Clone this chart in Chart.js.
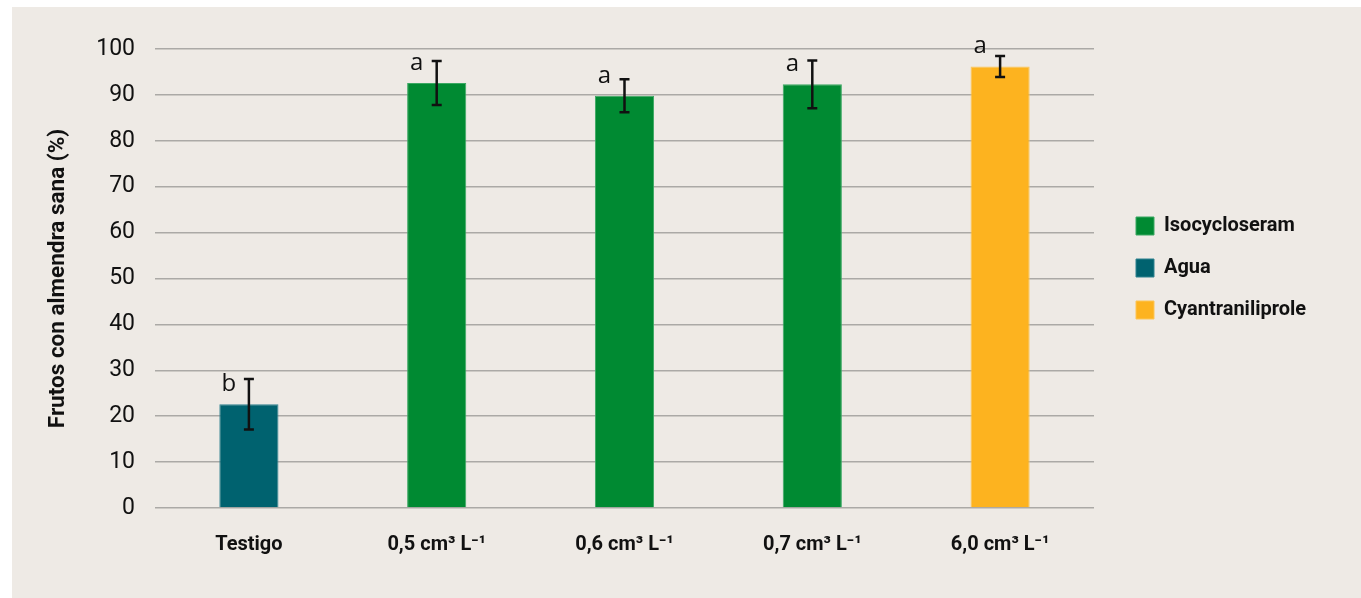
<!DOCTYPE html>
<html lang="es">
<head>
<meta charset="utf-8">
<title>Frutos con almendra sana</title>
<script src="https://cdn.jsdelivr.net/npm/chart.js@4.4.1/dist/chart.umd.min.js"></script>
<style>
    html, body { margin: 0; padding: 0; background: #ffffff; }
    #panel {
        position: absolute;
        left: 12px;
        top: 7px;
        width: 1349px;
        height: 591px;
        background: #eeeae5;
    }
</style>
</head>
<body>
<div id="panel"><canvas id="frutosChart"></canvas></div>
<script>
// Data
const categories = ['Testigo', '0,5 cm\u00b3 L\u207b\u00b9', '0,6 cm\u00b3 L\u207b\u00b9', '0,7 cm\u00b3 L\u207b\u00b9', '6,0 cm\u00b3 L\u207b\u00b9'];
const values = [22.6, 92.6, 89.8, 92.3, 96.2];
const errors = [5.5, 4.8, 3.6, 5.2, 2.3];
const letters = ['b', 'a', 'a', 'a', 'a'];
const treatments = ['Agua', 'Isocycloseram', 'Isocycloseram', 'Isocycloseram', 'Cyantraniliprole'];
const legendNames = ['Isocycloseram', 'Agua', 'Cyantraniliprole'];
const yTicks = [0, 10, 20, 30, 40, 50, 60, 70, 80, 90, 100];

const colors = {
    'Isocycloseram': '#008a32',
    'Agua': '#00626f',
    'Cyantraniliprole': '#fdb31f'
};
const edges = {
    'Isocycloseram': '#3aa862',
    'Agua': '#2f8290',
    'Cyantraniliprole': '#fdc556'
};

// error bars + significance letters
const errorBars = {
    id: 'errorBars',
    afterDatasetsDraw(chart) {
        const ctx = chart.ctx;
        const y = chart.scales.y;
        const meta = chart.getDatasetMeta(0);
        ctx.save();
        ctx.strokeStyle = '#111111';
        ctx.lineWidth = 2.5;
        meta.data.forEach((bar, i) => {
            const top = y.getPixelForValue(values[i] + errors[i]);
            const bot = y.getPixelForValue(values[i] - errors[i]);
            ctx.beginPath();
            ctx.moveTo(bar.x, top);
            ctx.lineTo(bar.x, bot);
            ctx.moveTo(bar.x - 5, top);
            ctx.lineTo(bar.x + 5, top);
            ctx.moveTo(bar.x - 5, bot);
            ctx.lineTo(bar.x + 5, bot);
            ctx.stroke();

            ctx.fillStyle = '#111111';
            ctx.font = '24px "Open Sans"';
            ctx.textAlign = 'center';
            ctx.textBaseline = 'alphabetic';
            ctx.fillText(letters[i], bar.x - 20, y.getPixelForValue(values[i] + 2.9));
        });
        ctx.restore();
    }
};

const ctx = document.getElementById('frutosChart').getContext('2d');

new Chart(ctx, {
    type: 'bar',
    data: {
        labels: categories,
        datasets: [{
            label: 'Frutos con almendra sana (%)',
            data: values,
            backgroundColor: treatments.map(t => colors[t]),
            borderColor: treatments.map(t => edges[t]),
            borderWidth: 1,
            barPercentage: 0.315,
            categoryPercentage: 1
        }]
    },
    options: {
        responsive: true,
        maintainAspectRatio: false,
        animation: false,
        layout: {
            padding: { top: 42, right: 47, bottom: 40, left: 0 }
        },
        plugins: {
            tooltip: { enabled: false },
            legend: {
                position: 'right',
                fullSize: false,
                align: 'start',
                maxWidth: 200,
                title: { display: true, text: ' ', padding: { top: 61, bottom: 60 }, font: { size: 20 } },
                labels: {
                    boxWidth: 18,
                    boxHeight: 18,
                    padding: 22,
                    color: '#111111',
                    font: { family: 'Roboto', size: 20, weight: 'bold' },
                    generateLabels: () => legendNames.map(n => ({
                        text: n,
                        fillStyle: colors[n],
                        strokeStyle: edges[n],
                        fontColor: '#111111',
                        lineWidth: 1,
                        hidden: false
                    }))
                },
                onClick: () => {}
            }
        },
        scales: {
            x: {
                grid: { display: false },
                border: { display: false },
                ticks: {
                    autoSkip: false,
                    maxRotation: 0,
                    padding: 17,
                    color: '#111111',
                    font: { family: 'Roboto', size: 20, weight: 'bold' }
                },
                afterFit: (s) => { s.height = 50; }
            },
            y: {
                min: 0,
                max: 100,
                afterBuildTicks: (s) => { s.ticks = yTicks.map(v => ({ value: v })); },
                grid: { color: '#aba9a6', lineWidth: 1.5, drawTicks: false },
                border: { display: false },
                ticks: {
                    padding: 20,
                    color: '#111111',
                    font: { family: 'Roboto', size: 23 }
                },
                title: {
                    display: true,
                    text: 'Frutos con almendra sana (%)',
                    color: '#111111',
                    padding: { top: 33, bottom: 0 },
                    font: { family: 'Roboto', size: 22.5, weight: 'bold' }
                },
                afterFit: (s) => { s.width = 143; }
            },
            // spacer between plot and legend
            gap: {
                type: 'linear',
                position: 'right',
                grid: { display: false },
                border: { display: false },
                ticks: { display: false },
                afterFit: (s) => { s.width = 20; }
            }
        }
    },
    plugins: [errorBars]
});
</script>
</body>
</html>
